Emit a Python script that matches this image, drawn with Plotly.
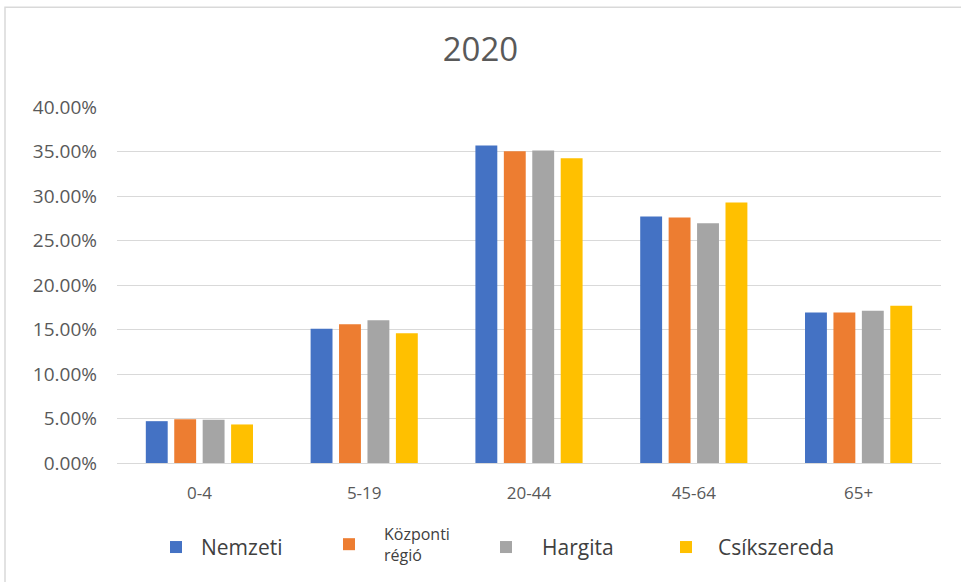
import plotly.graph_objects as go

# age groups and share of population per area (2020)
age_groups = ['0-4', '5-19', '20-44', '45-64', '65+']
series_names = ['Nemzeti', 'Központi<br>régió', 'Hargita', 'Csíkszereda']
nemzeti = [0.0470, 0.1508, 0.3567, 0.2770, 0.1691]
kozponti = [0.0492, 0.1560, 0.3503, 0.2758, 0.1691]
hargita = [0.0485, 0.1605, 0.3510, 0.2695, 0.1710]
csikszereda = [0.0433, 0.1458, 0.3425, 0.2927, 0.1766]
colors = ['#4472C4', '#ED7D31', '#A5A5A5', '#FFC000']

font_name = 'Open Sans'
L, R, T, B = 117, 20, 107, 118.5
PW, PH = 961 - L - R, 582 - T - B

def px_x(px):
    return (px - L) / PW

def px_y(py):
    return (582 - B - py) / PH

# one legend per series so each entry sits where Excel put it
legend_ids = ['legend', 'legend2', 'legend3', 'legend4']
symbol_px = [175, 348, 505, 685]
item_widths = [40, 60, 62, 54]
legend_sizes = [21, 16, 21, 21]
legend_y = [548, 545, 548, 548]

fig = go.Figure()
for i, (name, vals, col) in enumerate(zip(series_names, [nemzeti, kozponti, hargita, csikszereda], colors)):
    fig.add_trace(go.Bar(x=age_groups, y=vals, name=name, marker_color=col,
                         marker_line_width=0, legend=legend_ids[i], showlegend=True))

legends = {}
for lid, sx, iw, fs, ly in zip(legend_ids, symbol_px, item_widths, legend_sizes, legend_y):
    legends[lid] = dict(x=px_x(sx - iw / 2 - 4), xanchor='left', y=px_y(ly), yanchor='middle',
                        orientation='h', bgcolor='rgba(0,0,0,0)', itemwidth=iw,
                        font=dict(family=font_name, size=fs, color='#404040'))

fig.update_layout(
    width=961, height=582, showlegend=True,
    paper_bgcolor='white', plot_bgcolor='white',
    margin=dict(l=L, r=R, t=T, b=B, autoexpand=False),
    title=dict(text='2020', x=0.5, xanchor='center', y=0.915, yanchor='middle',
               font=dict(family=font_name, size=33, color='#595959')),
    barmode='group', bargap=0.31, bargroupgap=0.23,
    font=dict(family=font_name, color='#595959'),
    **legends,
)
fig.update_yaxes(range=[0, 0.4], dtick=0.05, tickformat='.2%',
                 gridcolor='#D9D9D9', gridwidth=1, zeroline=True,
                 zerolinecolor='#D9D9D9', zerolinewidth=1, showline=False,
                 tickfont=dict(family=font_name, size=19, color='#595959'), ticklabelstandoff=19)
fig.update_xaxes(showline=False, tickfont=dict(family=font_name, size=17, color='#595959'),
                 ticks='', ticklabelstandoff=18)
# light border around the whole chart (right/bottom edges fall outside the picture)
fig.add_shape(type='rect', xref='paper', yref='paper',
              x0=px_x(5), x1=px_x(975), y0=px_y(600), y1=px_y(7),
              line=dict(color='#D9D9D9', width=1.5), fillcolor='rgba(0,0,0,0)', layer='below')

fig.write_html('out.html', config={'displayModeBar': False},
               post_script="document.body.style.margin='0px';")
